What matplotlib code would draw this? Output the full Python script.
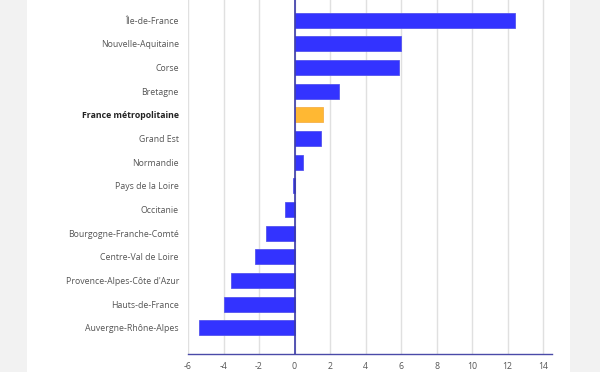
import matplotlib.pyplot as plt
import matplotlib as mpl

# Data
regions = ["Île-de-France", "Nouvelle-Aquitaine", "Corse", "Bretagne",
           "France métropolitaine", "Grand Est", "Normandie", "Pays de la Loire",
           "Occitanie", "Bourgogne-Franche-Comté", "Centre-Val de Loire",
           "Provence-Alpes-Côte d'Azur", "Hauts-de-France", "Auvergne-Rhône-Alpes"]
values = [12.4, 6.0, 5.9, 2.5, 1.6, 1.5, 0.45, -0.1, -0.55, -1.6, -2.25, -3.6, -4.0, -5.4]
highlight = "France métropolitaine"
xticks = [-6, -4, -2, 0, 2, 4, 6, 8, 10, 12, 14]

plt.rcParams['font.family'] = ['Open Sans', 'DejaVu Sans']

fig = plt.figure(figsize=(6, 3.72), dpi=100)
fig.patch.set_facecolor("#f2f2f2")
# white panel behind chart
fig.patches.append(mpl.patches.Rectangle((27/600, 0), (570-27)/600, 1, transform=fig.transFigure,
                                         facecolor="white", edgecolor="none", zorder=-10))

ax = fig.add_axes([188/600, 18/372, 364/600, 354/372])
ax.set_facecolor("none")

colors = ["#ffb833" if r == highlight else "#3333ff" for r in regions]
edges = ["#f5b04a" if r == highlight else "#5555ee" for r in regions]
ypos = list(range(len(regions)))
ax.barh(ypos, values, height=0.63, color=colors, edgecolor=edges, linewidth=0.6, zorder=3)

ax.set_xlim(-6, 14.5)
ax.set_ylim(14.1, -0.85)
ax.set_xticks(xticks)
ax.set_xticklabels([str(t) for t in xticks])
ax.set_yticks(ypos)
ax.set_yticklabels(regions)
ax.tick_params(axis="both", length=0, labelsize=6.3, labelcolor="#555555")
ax.tick_params(axis="y", pad=6.5)
ax.tick_params(axis="x", pad=5.5)
for lbl in ax.get_yticklabels():
    if lbl.get_text() == highlight:
        lbl.set_fontweight("bold")
        lbl.set_color("#222222")

ax.grid(axis="x", color="#e0e0e0", linewidth=1, zorder=0)
ax.axvline(0, color="#3a3aa8", linewidth=1.2, zorder=4)
for s in ["top", "right", "left"]:
    ax.spines[s].set_visible(False)
ax.spines["bottom"].set_color("#4a4aa8")
ax.spines["bottom"].set_linewidth(1)

plt.savefig("out.png", dpi=100)
